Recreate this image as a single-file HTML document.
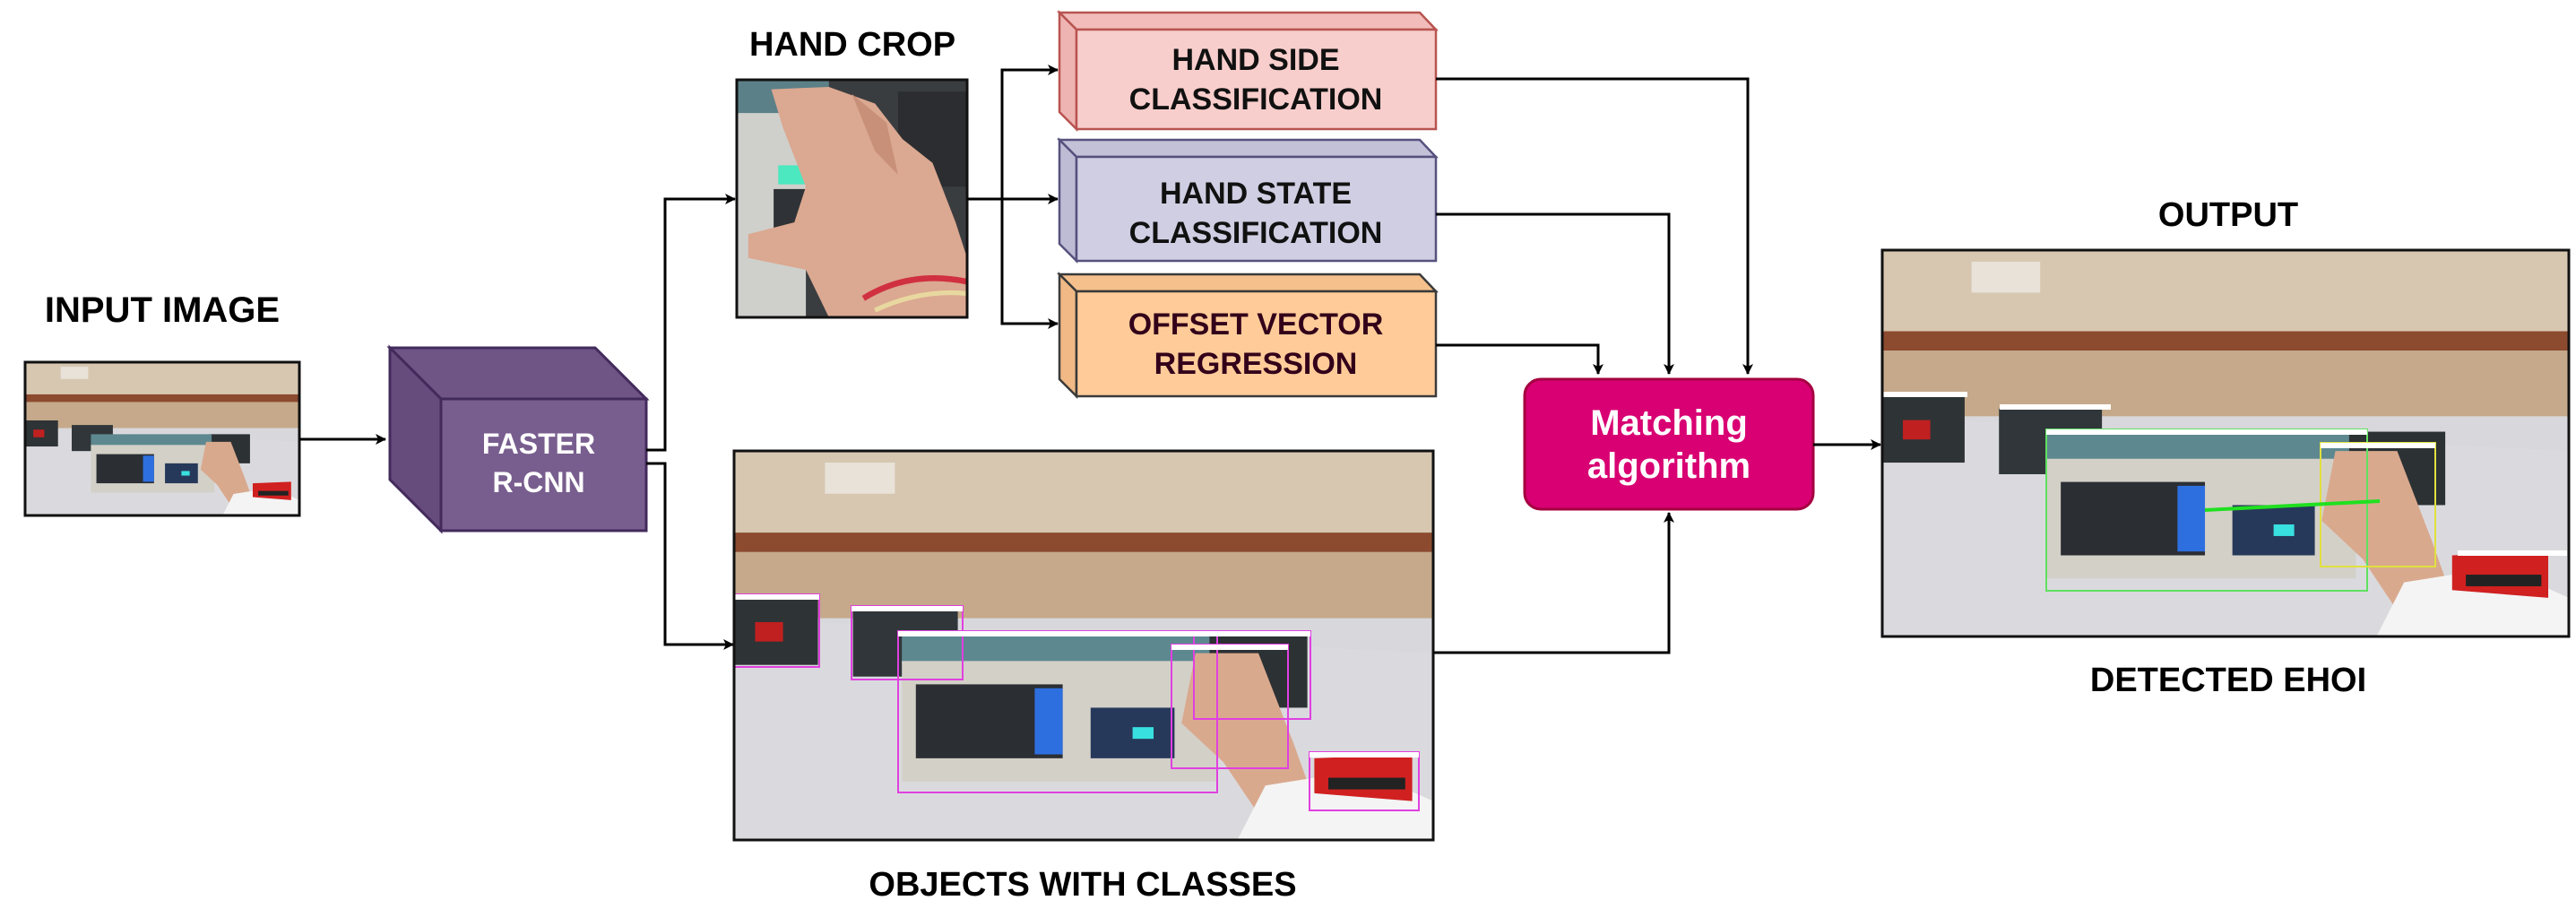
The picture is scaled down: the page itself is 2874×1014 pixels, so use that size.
<!DOCTYPE html>
<html><head><meta charset="utf-8"><style>
html,body{margin:0;padding:0;background:#fff}
svg{display:block}
text{font-family:"Liberation Sans",Arial,sans-serif;font-weight:bold}
</style></head><body>
<svg width="2874" height="1014" viewBox="0 0 2874 1014" xmlns="http://www.w3.org/2000/svg">
<defs>
<marker id="ar" markerWidth="12" markerHeight="12" refX="11" refY="6" orient="auto" markerUnits="userSpaceOnUse" viewBox="0 0 12 12">
<path d="M0,0 L12,6 L0,12 L3,6 Z" fill="#000"/></marker>
<symbol id="scene" viewBox="0 0 100 100" preserveAspectRatio="none">
<rect x="0" y="0" width="100" height="100" fill="#d8d8dc"/>
<rect x="0" y="0" width="100" height="22" fill="#d7c7b1"/>
<rect x="0" y="21" width="100" height="5" fill="#8c4a2e"/>
<rect x="0" y="26" width="100" height="17" fill="#c5a98a"/>
<path d="M0,43 L100,52 L100,100 L0,100Z" fill="#dadade"/>
<rect x="13" y="3" width="10" height="8" fill="#e8e2d8"/>
<rect x="0" y="38" width="12" height="17" fill="#2e3336"/>
<rect x="3" y="44" width="4" height="5" fill="#c02020"/>
<rect x="17" y="41" width="15" height="17" fill="#30363a"/>
<rect x="67" y="47" width="15" height="19" fill="#2c3134"/>
<rect x="24" y="47" width="44" height="8" fill="#5d8890"/>
<rect x="24" y="54" width="45" height="31" fill="#d3d0c8"/>
<rect x="26" y="60" width="21" height="19" fill="#2b2e33"/>
<rect x="43" y="61" width="4" height="17" fill="#2e6fe0"/>
<rect x="51" y="66" width="12" height="13" fill="#27395a"/>
<rect x="57" y="71" width="3" height="3" fill="#38e0e0"/>
<path d="M66,52 L75,52 L80,75 L83,90 L76,96 L70,80 L64,70Z" fill="#d9a98e"/>
<path d="M76,86 L90,82 L100,90 L100,100 L72,100Z" fill="#f4f4f4"/>
<path d="M83,79 L97,78 L97,90 L83,88Z" fill="#d02020"/>
<rect x="85" y="84" width="11" height="3" fill="#222"/>
</symbol>
</defs>

<!-- INPUT -->
<text x="181" y="359" font-size="40" text-anchor="middle" fill="#000">INPUT IMAGE</text>
<svg x="28" y="404" width="306" height="171"><use href="#scene" width="306" height="171"/></svg>
<rect x="28" y="404" width="306" height="171" fill="none" stroke="#111" stroke-width="3"/>
<line x1="334" y1="490" x2="430" y2="490" stroke="#000" stroke-width="3" marker-end="url(#ar)"/>

<!-- CUBE -->
<polygon points="435,388 664,388 721,445 492,445" fill="#6e5585" stroke="#432a5c" stroke-width="3"/>
<polygon points="435,388 492,445 492,592 435,535" fill="#654c7c" stroke="#432a5c" stroke-width="3"/>
<rect x="492" y="445" width="229" height="147" fill="#785e8e" stroke="#432a5c" stroke-width="3"/>
<text x="601" y="506" font-size="32" fill="#fff" text-anchor="middle">FASTER</text>
<text x="601" y="549" font-size="32" fill="#fff" text-anchor="middle">R-CNN</text>

<!-- cube connectors -->
<polyline points="721,502 742,502 742,222 820,222" fill="none" stroke="#000" stroke-width="3" marker-end="url(#ar)"/>
<polyline points="721,517 742,517 742,719 818,719" fill="none" stroke="#000" stroke-width="3" marker-end="url(#ar)"/>

<!-- HAND CROP -->
<text x="951" y="62" font-size="38" text-anchor="middle" fill="#000">HAND CROP</text>
<svg x="822" y="89" width="257" height="265" viewBox="0 0 100 100" preserveAspectRatio="none">
<rect width="100" height="100" fill="#3a3d40"/>
<rect x="0" y="12" width="30" height="88" fill="#cfd0cc"/>
<rect x="0" y="0" width="40" height="14" fill="#5c8088"/>
<rect x="70" y="5" width="30" height="40" fill="#2b2d30"/>
<rect x="18" y="36" width="14" height="8" fill="#4ce8c0"/>
<rect x="16" y="46" width="16" height="22" fill="#2f3236"/>
<path d="M15,4 L40,3 L60,10 L72,25 L85,35 L95,60 L100,75 L100,100 L40,100 L30,80 L5,75 L5,65 L25,60 L30,45 L20,20Z" fill="#dba891"/>
<path d="M50,6 L65,18 L70,40 L60,30Z" fill="#c89078"/>
<path d="M55,92 Q75,80 100,85" stroke="#d03040" stroke-width="2.5" fill="none"/>
<path d="M60,97 Q80,88 100,90" stroke="#e8d8a0" stroke-width="2" fill="none"/>
</svg>
<rect x="822" y="89" width="257" height="265" fill="none" stroke="#111" stroke-width="3"/>

<!-- split arrows -->
<line x1="1079" y1="222" x2="1180" y2="222" stroke="#000" stroke-width="3" marker-end="url(#ar)"/>
<polyline points="1180,78 1118,78 1118,361 1180,361" fill="none" stroke="#000" stroke-width="3"/>
<line x1="1118" y1="78" x2="1180" y2="78" stroke="#000" stroke-width="3" marker-end="url(#ar)"/>
<line x1="1118" y1="361" x2="1180" y2="361" stroke="#000" stroke-width="3" marker-end="url(#ar)"/>

<!-- boxes -->
<g stroke="#b85450" stroke-width="2.5">
<polygon points="1182,14 1584,14 1602,33 1201,33" fill="#f2bcba"/>
<polygon points="1182,14 1201,33 1201,144 1182,125" fill="#eeb4b2"/>
<rect x="1201" y="33" width="401" height="111" fill="#f8cecc"/>
</g>
<text x="1401" y="78" font-size="34" text-anchor="middle" fill="#111">HAND SIDE</text>
<text x="1401" y="122" font-size="34" text-anchor="middle" fill="#111">CLASSIFICATION</text>

<g stroke="#56517e" stroke-width="2.5">
<polygon points="1182,156 1584,156 1602,175 1201,175" fill="#c3c1d8"/>
<polygon points="1182,156 1201,175 1201,291 1182,272" fill="#bebcd4"/>
<rect x="1201" y="175" width="401" height="116" fill="#d0cee2"/>
</g>
<text x="1401" y="227" font-size="34" text-anchor="middle" fill="#111">HAND STATE</text>
<text x="1401" y="271" font-size="34" text-anchor="middle" fill="#111">CLASSIFICATION</text>

<g stroke="#3a3a3a" stroke-width="2.5">
<polygon points="1182,306 1584,306 1602,325 1201,325" fill="#f5c08c"/>
<polygon points="1182,306 1201,325 1201,442 1182,423" fill="#f0b985"/>
<rect x="1201" y="325" width="401" height="117" fill="#ffcc99"/>
</g>
<text x="1401" y="373" font-size="34" text-anchor="middle" fill="#33001a">OFFSET VECTOR</text>
<text x="1401" y="417" font-size="34" text-anchor="middle" fill="#33001a">REGRESSION</text>

<!-- to matching -->
<polyline points="1602,88 1950,88 1950,417" fill="none" stroke="#000" stroke-width="3" marker-end="url(#ar)"/>
<polyline points="1602,239 1862,239 1862,417" fill="none" stroke="#000" stroke-width="3" marker-end="url(#ar)"/>
<polyline points="1602,385 1783,385 1783,417" fill="none" stroke="#000" stroke-width="3" marker-end="url(#ar)"/>
<polyline points="1599,728 1862,728 1862,572" fill="none" stroke="#000" stroke-width="3" marker-end="url(#ar)"/>

<!-- matching -->
<rect x="1701" y="423" width="322" height="145" rx="18" fill="#d80073" stroke="#a50040" stroke-width="3"/>
<text x="1862" y="485" font-size="40" text-anchor="middle" fill="#fff">Matching</text>
<text x="1862" y="533" font-size="40" text-anchor="middle" fill="#fff">algorithm</text>
<line x1="2023" y1="496" x2="2098" y2="496" stroke="#000" stroke-width="3" marker-end="url(#ar)"/>

<!-- OBJECTS -->
<svg x="819" y="503" width="780" height="434"><use href="#scene" width="780" height="434"/>
<g fill="none" stroke="#e040e0" stroke-width="2">
<rect x="0" y="160" width="95" height="81"/>
<rect x="131" y="173" width="124" height="82"/>
<rect x="183" y="201" width="356" height="180"/>
<rect x="513" y="201" width="130" height="98"/>
<rect x="488" y="216" width="130" height="138"/>
<rect x="642" y="336" width="122" height="65"/>
</g>
<g fill="#fff">
<rect x="0" y="160" width="95" height="6"/><rect x="131" y="173" width="124" height="6"/>
<rect x="183" y="201" width="356" height="6"/><rect x="513" y="201" width="130" height="6"/>
<rect x="488" y="216" width="130" height="6"/><rect x="642" y="336" width="122" height="6"/>
</g>
</svg>
<rect x="819" y="503" width="780" height="434" fill="none" stroke="#111" stroke-width="3"/>
<text x="1208" y="999" font-size="38" text-anchor="middle" fill="#000">OBJECTS WITH CLASSES</text>

<!-- OUTPUT -->
<text x="2486" y="252" font-size="38" text-anchor="middle" fill="#000">OUTPUT</text>
<svg x="2100" y="279" width="766" height="431"><use href="#scene" width="766" height="431"/>
<g fill="none" stroke-width="2">
<rect x="183" y="200" width="358" height="180" stroke="#60e060"/>
<rect x="489" y="215" width="128" height="138" stroke="#e0e040"/>
<line x1="360" y1="290" x2="555" y2="280" stroke="#20e020" stroke-width="4"/>
</g>
<g fill="#fff">
<rect x="0" y="158" width="95" height="6"/><rect x="131" y="172" width="124" height="6"/>
<rect x="183" y="200" width="358" height="6"/><rect x="489" y="215" width="128" height="6"/>
<rect x="642" y="335" width="122" height="6"/>
</g>
</svg>
<rect x="2100" y="279" width="766" height="431" fill="none" stroke="#111" stroke-width="3"/>
<text x="2486" y="771" font-size="38" text-anchor="middle" fill="#000">DETECTED EHOI</text>
</svg>
</body></html>
